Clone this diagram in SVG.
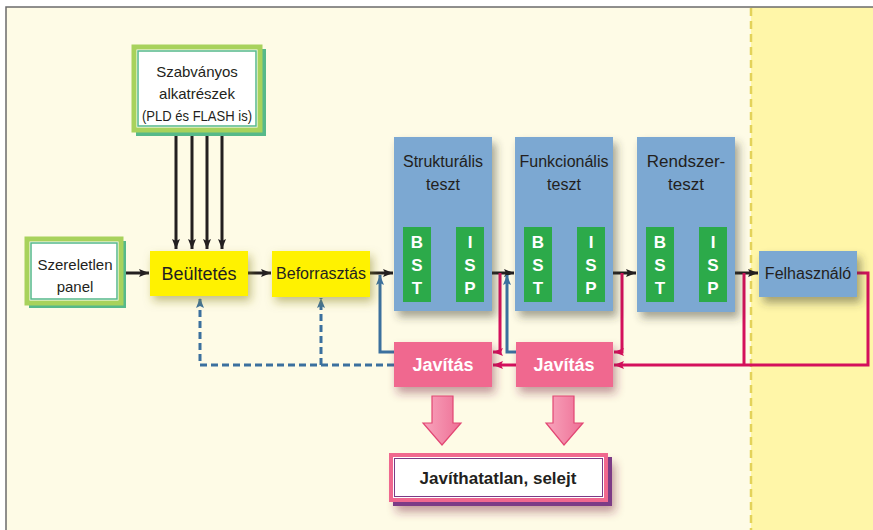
<svg xmlns="http://www.w3.org/2000/svg" width="873" height="530" viewBox="0 0 873 530">
<defs>
<filter id="sh" x="-30%" y="-30%" width="170%" height="170%">
<feDropShadow dx="4" dy="6" stdDeviation="4" flood-color="#3a3a2a" flood-opacity="0.45"/>
</filter>
<filter id="shy" x="-30%" y="-30%" width="170%" height="170%">
<feDropShadow dx="3" dy="5" stdDeviation="5" flood-color="#8a8420" flood-opacity="0.5"/>
</filter>
<filter id="shp" x="-30%" y="-30%" width="170%" height="170%">
<feDropShadow dx="3" dy="6" stdDeviation="5" flood-color="#7a2840" flood-opacity="0.45"/>
</filter>
<linearGradient id="pg" x1="0" y1="0" x2="1" y2="0">
<stop offset="0" stop-color="#F8A4BC"/>
<stop offset="1" stop-color="#EE7096"/>
</linearGradient>
<marker id="ak" viewBox="0 0 10 8" markerWidth="10" markerHeight="8" refX="10" refY="4" orient="auto" markerUnits="userSpaceOnUse"><path d="M0,0 L10,4 L0,8 L2,4 z" fill="#231F20"/></marker>
<marker id="ab" viewBox="0 0 10 8" markerWidth="10" markerHeight="8" refX="10" refY="4" orient="auto" markerUnits="userSpaceOnUse"><path d="M0,0 L10,4 L0,8 L2,4 z" fill="#3B709E"/></marker>
<marker id="ap" viewBox="0 0 10 8" markerWidth="10" markerHeight="8" refX="10" refY="4" orient="auto" markerUnits="userSpaceOnUse"><path d="M0,0 L10,4 L0,8 L2,4 z" fill="#D4105C"/></marker>
</defs>
<style>
.t{font-family:"Liberation Sans",Arial,sans-serif;fill:#231F20;text-anchor:middle}
.w{font-family:"Liberation Sans",Arial,sans-serif;fill:#fff;font-weight:bold;text-anchor:middle}
.blue{fill:#7BA8D2}
.grn{fill:#2CAA4A}
.yel{fill:#FFF200}
.pink{fill:#F0688F}
.k{stroke:#231F20;stroke-width:3;fill:none}
.b{stroke:#3B709E;stroke-width:3;fill:none}
.bd{stroke:#3B709E;stroke-width:3;fill:none;stroke-dasharray:7,4}
.p{stroke:#D4105C;stroke-width:3;fill:none}
</style>
<rect x="0" y="0" width="873" height="530" fill="#fff"/>
<rect x="6" y="7" width="867" height="523" fill="#FEFBE6"/>
<rect x="751" y="7" width="122" height="523" fill="#FFF6A8"/>
<line x1="751" y1="8" x2="751" y2="530" stroke="#E3D25A" stroke-width="2.5" stroke-dasharray="8,5"/>
<path d="M6,530 V7 H873" fill="none" stroke="#6b6b6b" stroke-width="1.5"/>

<g id="connectors">
<path class="k" d="M176,134 V249" marker-end="url(#ak)"/>
<path class="k" d="M192,134 V249" marker-end="url(#ak)"/>
<path class="k" d="M207,134 V249" marker-end="url(#ak)"/>
<path class="k" d="M222,134 V249" marker-end="url(#ak)"/>
<path class="k" d="M125,273 H149" marker-end="url(#ak)"/>
<path class="k" d="M248,273 H271" marker-end="url(#ak)"/>
<path class="k" d="M370,273 H393" marker-end="url(#ak)"/>
<path class="k" d="M492,273 H514" marker-end="url(#ak)"/>
<path class="k" d="M613,273 H636" marker-end="url(#ak)"/>
<path class="k" d="M735,273 H758" marker-end="url(#ak)"/>
<path class="bd" d="M394,365 H200 V298" marker-end="url(#ab)"/>
<path class="bd" d="M321,365 V298" marker-end="url(#ab)"/>
<path class="b" d="M394,352 H380 V275" marker-end="url(#ab)"/>
<path class="b" d="M516,352 H507 V275" marker-end="url(#ab)"/>
<path class="p" d="M500,273 V352 H493" marker-end="url(#ap)"/>
<path class="p" d="M516,365 H493" marker-end="url(#ap)"/>
<path class="p" d="M622,273 V352 H614" marker-end="url(#ap)"/>
<path class="p" d="M857,273 H868 V365 H614" marker-end="url(#ap)"/>
<path class="p" d="M744,273 V365"/>
</g>

<g id="szabvanyos">
<rect x="136" y="49" width="130" height="87" fill="#56B98A"/>
<rect x="134" y="47" width="126" height="83" fill="#fff" stroke="#A8D25C" stroke-width="5"/>
<rect x="138" y="51" width="118" height="75" fill="none" stroke="#56B98A" stroke-width="1.5"/>
<text class="t" x="197" y="77" font-size="15">Szabványos</text>
<text class="t" x="197" y="99" font-size="15">alkatrészek</text>
<text class="t" x="197" y="121" font-size="15" textLength="110" lengthAdjust="spacingAndGlyphs">(PLD és FLASH is)</text>
</g>

<g id="szereletlen">
<rect x="29" y="241" width="97" height="67" fill="#56B98A"/>
<rect x="27" y="239" width="94" height="64" fill="#fff" stroke="#A8D25C" stroke-width="5"/>
<rect x="31" y="243" width="86" height="56" fill="none" stroke="#56B98A" stroke-width="1.5"/>
<text class="t" x="75" y="270" font-size="15">Szereletlen</text>
<text class="t" x="75" y="292" font-size="15">panel</text>
</g>

<g id="beultetes">
<rect class="yel" x="150" y="251" width="98" height="45" filter="url(#shy)"/>
<text class="t" x="199" y="280" font-size="18">Beültetés</text>
</g>

<g id="beforrasztas">
<rect class="yel" x="272" y="251" width="98" height="46" filter="url(#shy)"/>
<text class="t" x="321" y="279" font-size="16">Beforrasztás</text>
</g>

<g id="strukturalis">
<rect class="blue" x="394" y="137" width="98" height="174" filter="url(#sh)"/>
<text class="t" x="443" y="167" font-size="16">Strukturális</text>
<text class="t" x="443" y="190" font-size="16">teszt</text>
<rect class="grn" x="403" y="227" width="28" height="75"/>
<rect class="grn" x="456" y="227" width="28" height="75"/>
<text class="w" x="417" y="248" font-size="17">B</text>
<text class="w" x="417" y="271" font-size="17">S</text>
<text class="w" x="417" y="294" font-size="17">T</text>
<text class="w" x="470" y="248" font-size="17">I</text>
<text class="w" x="470" y="271" font-size="17">S</text>
<text class="w" x="470" y="294" font-size="17">P</text>
</g>

<g id="funkcionalis">
<rect class="blue" x="515" y="137" width="98" height="174" filter="url(#sh)"/>
<text class="t" x="564" y="167" font-size="16">Funkcionális</text>
<text class="t" x="564" y="190" font-size="16">teszt</text>
<rect class="grn" x="524" y="227" width="28" height="75"/>
<rect class="grn" x="577" y="227" width="28" height="75"/>
<text class="w" x="538" y="248" font-size="17">B</text>
<text class="w" x="538" y="271" font-size="17">S</text>
<text class="w" x="538" y="294" font-size="17">T</text>
<text class="w" x="591" y="248" font-size="17">I</text>
<text class="w" x="591" y="271" font-size="17">S</text>
<text class="w" x="591" y="294" font-size="17">P</text>
</g>

<g id="rendszerteszt">
<rect class="blue" x="637" y="137" width="98" height="175" filter="url(#sh)"/>
<text class="t" x="686" y="167" font-size="17">Rendszer-</text>
<text class="t" x="686" y="190" font-size="17">teszt</text>
<rect class="grn" x="646" y="227" width="28" height="75"/>
<rect class="grn" x="699" y="227" width="28" height="75"/>
<text class="w" x="660" y="248" font-size="17">B</text>
<text class="w" x="660" y="271" font-size="17">S</text>
<text class="w" x="660" y="294" font-size="17">T</text>
<text class="w" x="713" y="248" font-size="17">I</text>
<text class="w" x="713" y="271" font-size="17">S</text>
<text class="w" x="713" y="294" font-size="17">P</text>
</g>

<g id="felhasznalo">
<rect class="blue" x="759" y="251" width="98" height="46" filter="url(#sh)"/>
<text class="t" x="808" y="279" font-size="16">Felhasználó</text>
</g>

<g id="javitas1">
<rect class="pink" x="394" y="342" width="98" height="45" filter="url(#shp)"/>
<text class="w" x="443" y="371" font-size="18">Javítás</text>
</g>

<g id="javitas2">
<rect class="pink" x="516" y="342" width="97" height="45" filter="url(#shp)"/>
<text class="w" x="564" y="371" font-size="18">Javítás</text>
</g>

<g id="lefele-nyilak">
<polygon points="432,396 453,396 453,423 461,423 442,445 423,423 432,423" fill="url(#pg)" stroke="#E24673" stroke-width="1.2"/>
<polygon points="553,396 574,396 574,423 583,423 564,445 546,423 553,423" fill="url(#pg)" stroke="#E24673" stroke-width="1.2"/>
</g>

<g id="javithatatlan">
<rect x="393" y="457" width="219" height="49" fill="#7B3A86" filter="url(#shp)"/>
<rect x="391" y="455" width="215" height="45" fill="#fff" stroke="#F0688F" stroke-width="4"/>
<rect x="394.5" y="458.5" width="208" height="38" fill="none" stroke="#7B3A86" stroke-width="1"/>
<text class="t" x="498" y="484" font-size="17" font-weight="bold">Javíthatatlan, selejt</text>
</g>
</svg>
